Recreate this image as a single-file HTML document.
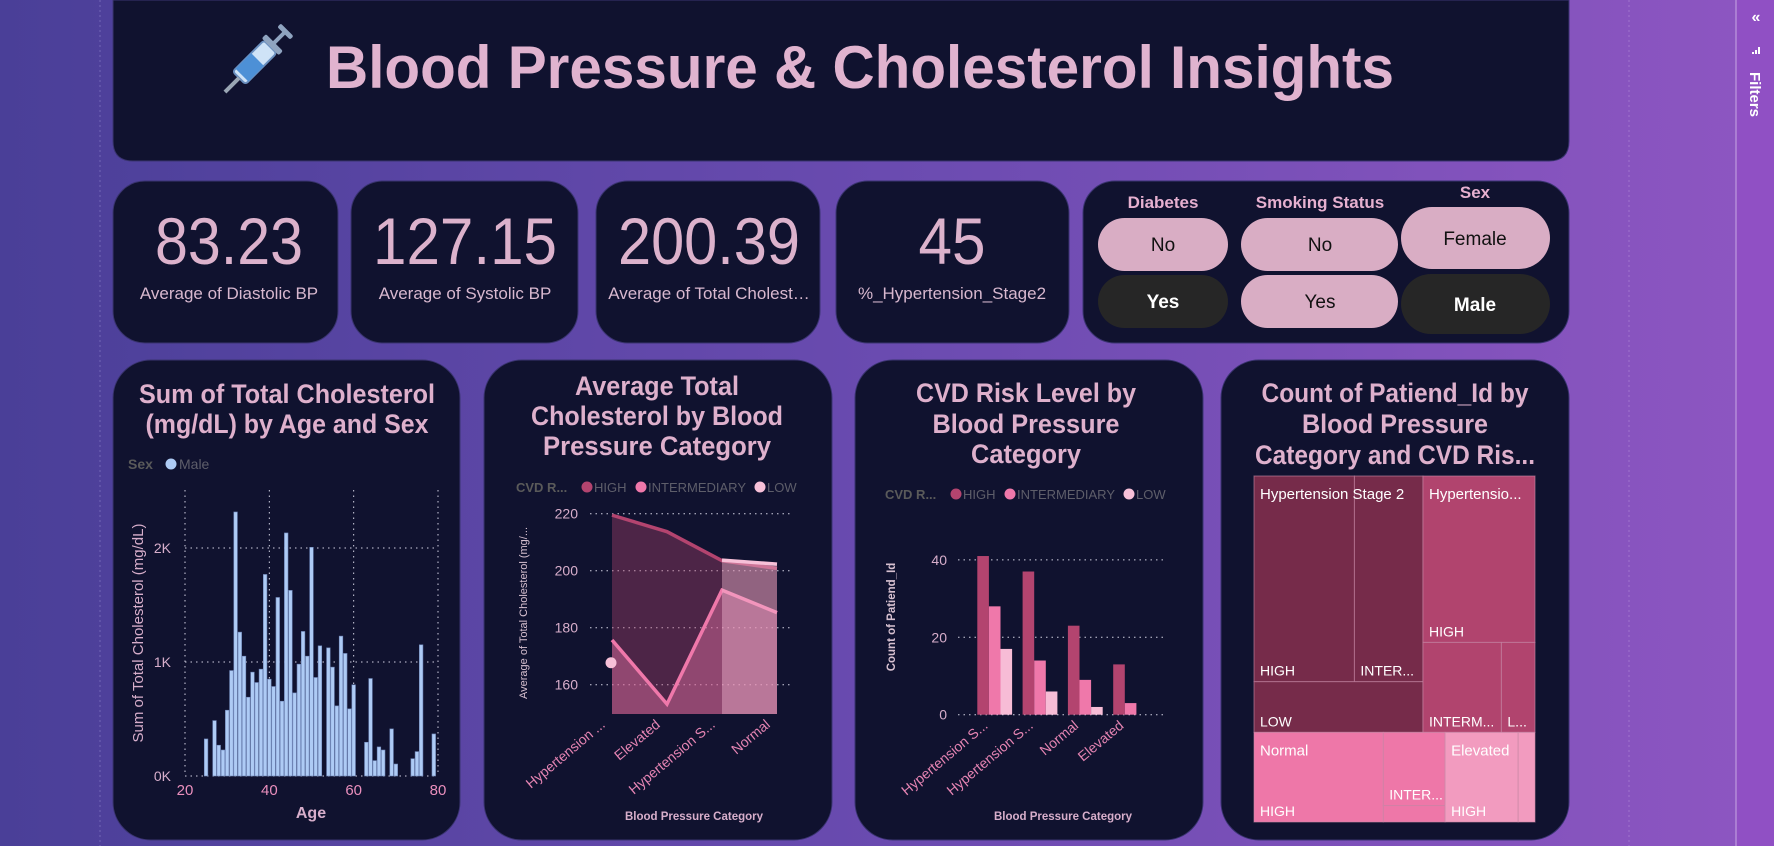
<!DOCTYPE html>
<html><head><meta charset="utf-8">
<style>
html,body{margin:0;padding:0;}
body{width:1774px;height:846px;overflow:hidden;background:linear-gradient(90deg,#4a3f98 0%,#6a4bb0 50%,#8e56c2 100%);font-family:"Liberation Sans",sans-serif;position:relative;}
svg{position:absolute;left:0;top:0;}
text{font-family:"Liberation Sans",sans-serif;}
</style></head>
<body>
<svg id="s" width="1774" height="846" viewBox="0 0 1774 846" xmlns="http://www.w3.org/2000/svg">
  <g>
    <line x1="100" y1="0" x2="100" y2="846" stroke="#8a7fc8" stroke-dasharray="2,3" stroke-width="1" opacity="0.6"/>
    <line x1="1629" y1="0" x2="1629" y2="846" stroke="#b08ad8" stroke-dasharray="2,3" stroke-width="1" opacity="0.6"/>
  </g>
  <g>
    <rect x="1736" y="0" width="38" height="846" fill="#9050c4"/>
    <line x1="1736" y1="0" x2="1736" y2="846" stroke="#c8a8e4" stroke-width="1"/>
    <text x="1756" y="22" fill="#fff" font-size="16" font-weight="bold" text-anchor="middle">«</text>
    <g fill="#fff">
      <rect x="1758" y="47" width="2" height="7"/><rect x="1755" y="50" width="2" height="4"/><rect x="1752" y="52" width="2" height="2"/>
    </g>
    <text transform="translate(1750,72) rotate(90)" fill="#fff" font-size="15" font-weight="bold">Filters</text>
  </g>

  <!-- Header -->
  <g>
    <path d="M113,0 H1569 V141 Q1569,161 1549,161 H133 Q113,161 113,141 Z" fill="#10122f" stroke="#3a3470" stroke-width="1"/>
    <g transform="translate(249,68) rotate(45)">
      <rect x="-9" y="-30" width="18" height="44" rx="3" fill="#cfe3f7" stroke="#6a8fbf" stroke-width="2"/>
      <rect x="-9" y="-12" width="18" height="22" fill="#4d90d6"/>
      <rect x="-2" y="14" width="4" height="20" fill="#9aa6b4"/>
      <rect x="-12" y="-36" width="24" height="6" rx="2" fill="#8fa4c0"/>
      <rect x="-2" y="-50" width="4" height="16" fill="#8fa4c0"/>
      <rect x="-9" y="-54" width="18" height="5" rx="2" fill="#8fa4c0"/>
    </g>
    <text x="326" y="88" fill="#e0b3cf" font-size="60" font-weight="bold" textLength="1068" lengthAdjust="spacingAndGlyphs">Blood Pressure &amp; Cholesterol Insights</text>
  </g>

  <!-- KPI cards -->
  <g>
    <rect x="113" y="181" width="225" height="162" rx="32" fill="#10122f" stroke="#3a3470"/>
    <text x="229" y="264" fill="#dcb2cc" font-size="66" text-anchor="middle" textLength="148" lengthAdjust="spacingAndGlyphs">83.23</text>
    <text x="229" y="299" fill="#d8b8cf" font-size="17" text-anchor="middle">Average of Diastolic BP</text>
  </g>
  <g>
    <rect x="351" y="181" width="227" height="162" rx="32" fill="#10122f" stroke="#3a3470"/>
    <text x="465" y="264" fill="#dcb2cc" font-size="66" text-anchor="middle" textLength="184" lengthAdjust="spacingAndGlyphs">127.15</text>
    <text x="465" y="299" fill="#d8b8cf" font-size="17" text-anchor="middle">Average of Systolic BP</text>
  </g>
  <g>
    <rect x="596" y="181" width="224" height="162" rx="32" fill="#10122f" stroke="#3a3470"/>
    <text x="709" y="264" fill="#dcb2cc" font-size="66" text-anchor="middle" textLength="182" lengthAdjust="spacingAndGlyphs">200.39</text>
    <text x="709" y="299" fill="#d8b8cf" font-size="17" text-anchor="middle">Average of Total Cholest…</text>
  </g>
  <g>
    <rect x="836" y="181" width="233" height="162" rx="32" fill="#10122f" stroke="#3a3470"/>
    <text x="952" y="264" fill="#dcb2cc" font-size="66" text-anchor="middle" textLength="67" lengthAdjust="spacingAndGlyphs">45</text>
    <text x="952" y="299" fill="#d8b8cf" font-size="17" text-anchor="middle">%_Hypertension_Stage2</text>
  </g>

  <!-- Slicers -->
  <g>
    <rect x="1083" y="181" width="486" height="162" rx="32" fill="#10122f" stroke="#3a3470"/>
    <text x="1163" y="208" fill="#e6b0d0" font-size="17" font-weight="bold" text-anchor="middle">Diabetes</text>
    <text x="1320" y="208" fill="#e6b0d0" font-size="17" font-weight="bold" text-anchor="middle">Smoking Status</text>
    <text x="1475" y="198" fill="#e6b0d0" font-size="17" font-weight="bold" text-anchor="middle">Sex</text>
    <g><rect x="1098" y="218" width="130" height="53" rx="26.5" fill="#d9adc4"/><text x="1163" y="251" font-size="19" text-anchor="middle" fill="#111">No</text></g>
    <g><rect x="1098" y="275" width="130" height="53" rx="26.5" fill="#262626"/><text x="1163" y="308" font-size="19" font-weight="bold" text-anchor="middle" fill="#fff">Yes</text></g>
    <g><rect x="1241" y="218" width="157" height="53" rx="26.5" fill="#d9adc4"/><text x="1320" y="251" font-size="19" text-anchor="middle" fill="#111">No</text></g>
    <g><rect x="1241" y="275" width="157" height="53" rx="26.5" fill="#d9adc4"/><text x="1320" y="308" font-size="19" text-anchor="middle" fill="#111">Yes</text></g>
    <g><rect x="1401" y="207" width="149" height="62" rx="31" fill="#d9adc4"/><text x="1475" y="245" font-size="19" text-anchor="middle" fill="#111">Female</text></g>
    <g><rect x="1401" y="274" width="149" height="60" rx="30" fill="#262626"/><text x="1475" y="311" font-size="19" font-weight="bold" text-anchor="middle" fill="#fff">Male</text></g>
  </g>

  <!-- Chart cards -->
  <g>
    <rect x="113" y="360" width="347" height="480" rx="38" fill="#10122f" stroke="#3a3470"/>
    <text x="287" y="403" fill="#deb0cc" font-size="27" font-weight="bold" text-anchor="middle" textLength="296" lengthAdjust="spacingAndGlyphs">Sum of Total Cholesterol</text>
    <text x="287" y="433" fill="#deb0cc" font-size="27" font-weight="bold" text-anchor="middle" textLength="283" lengthAdjust="spacingAndGlyphs">(mg/dL) by Age and Sex</text>
    <g>
      <text x="128" y="469" fill="#5a5a5a" font-size="14" font-weight="bold">Sex</text>
      <circle cx="171" cy="464" r="5.5" fill="#aecbf5"/>
      <text x="179" y="469" fill="#5e5e6a" font-size="14">Male</text>
    </g>
    <text transform="translate(143,633) rotate(-90)" fill="#d7aecb" font-size="15" text-anchor="middle">Sum of Total Cholesterol (mg/dL)</text>
    <text x="311" y="818" fill="#d7aecb" font-size="16" font-weight="bold" text-anchor="middle">Age</text>
    <g id="c1"></g>
  </g>
  <g>
    <rect x="484" y="360" width="348" height="480" rx="38" fill="#10122f" stroke="#3a3470"/>
    <text x="657" y="395" fill="#deb0cc" font-size="27" font-weight="bold" text-anchor="middle" textLength="164" lengthAdjust="spacingAndGlyphs">Average Total</text>
    <text x="657" y="425" fill="#deb0cc" font-size="27" font-weight="bold" text-anchor="middle" textLength="252" lengthAdjust="spacingAndGlyphs">Cholesterol by Blood</text>
    <text x="657" y="455" fill="#deb0cc" font-size="27" font-weight="bold" text-anchor="middle" textLength="228" lengthAdjust="spacingAndGlyphs">Pressure Category</text>
    <g>
      <text x="516" y="492" fill="#5a5a5a" font-size="13" font-weight="bold">CVD R...</text>
      <circle cx="587" cy="487" r="5.5" fill="#b3446f"/><text x="594" y="492" fill="#5e5e6a" font-size="13">HIGH</text>
      <circle cx="641" cy="487" r="5.5" fill="#ef78aa"/><text x="648" y="492" fill="#5e5e6a" font-size="13">INTERMEDIARY</text>
      <circle cx="760" cy="487" r="5.5" fill="#f7c0d8"/><text x="767" y="492" fill="#5e5e6a" font-size="13">LOW</text>
    </g>
    <text transform="translate(527,613) rotate(-90)" fill="#d7c0d0" font-size="11" text-anchor="middle">Average of Total Cholesterol (mg/...</text>
    <text x="694" y="820" fill="#d7aecb" font-size="11.5" font-weight="bold" text-anchor="middle">Blood Pressure Category</text>
    <g id="c2"></g>
  </g>
  <g>
    <rect x="855" y="360" width="348" height="480" rx="38" fill="#10122f" stroke="#3a3470"/>
    <text x="1026" y="402" fill="#deb0cc" font-size="27" font-weight="bold" text-anchor="middle" textLength="220" lengthAdjust="spacingAndGlyphs">CVD Risk Level by</text>
    <text x="1026" y="433" fill="#deb0cc" font-size="27" font-weight="bold" text-anchor="middle" textLength="187" lengthAdjust="spacingAndGlyphs">Blood Pressure</text>
    <text x="1026" y="463" fill="#deb0cc" font-size="27" font-weight="bold" text-anchor="middle" textLength="110" lengthAdjust="spacingAndGlyphs">Category</text>
    <g>
      <text x="885" y="499" fill="#5a5a5a" font-size="13" font-weight="bold">CVD R...</text>
      <circle cx="956" cy="494" r="5.5" fill="#b3446f"/><text x="963" y="499" fill="#5e5e6a" font-size="13">HIGH</text>
      <circle cx="1010" cy="494" r="5.5" fill="#ef78aa"/><text x="1017" y="499" fill="#5e5e6a" font-size="13">INTERMEDIARY</text>
      <circle cx="1129" cy="494" r="5.5" fill="#f7c0d8"/><text x="1136" y="499" fill="#5e5e6a" font-size="13">LOW</text>
    </g>
    <text transform="translate(895,617) rotate(-90)" fill="#d7c0d0" font-size="11.5" font-weight="bold" text-anchor="middle">Count of Patiend_Id</text>
    <text x="1063" y="820" fill="#d7aecb" font-size="11.5" font-weight="bold" text-anchor="middle">Blood Pressure Category</text>
    <g id="c3"></g>
  </g>
  <g>
    <rect x="1221" y="360" width="348" height="480" rx="38" fill="#10122f" stroke="#3a3470"/>
    <text x="1395" y="402" fill="#deb0cc" font-size="27" font-weight="bold" text-anchor="middle" textLength="267" lengthAdjust="spacingAndGlyphs">Count of Patiend_Id by</text>
    <text x="1395" y="433" fill="#deb0cc" font-size="27" font-weight="bold" text-anchor="middle" textLength="186" lengthAdjust="spacingAndGlyphs">Blood Pressure</text>
    <text x="1395" y="464" fill="#deb0cc" font-size="27" font-weight="bold" text-anchor="middle" textLength="280" lengthAdjust="spacingAndGlyphs">Category and CVD Ris...</text>
    <g id="c4"></g>
  </g>
</svg>
<script>
// ---------- Chart 1 data ----------
const ages = [25,27,28,29,30,31,32,33,34,35,36,37,38,39,40,41,42,43,44,45,46,47,48,49,50,51,52,54,55,56,57,58,59,60,63,64,65,66,67,69,70,74,75,76,79];
const cholSums = [325,486,270,228,577,925,2316,1262,1051,691,911,820,937,1768,849,785,1566,656,2132,1628,729,981,1268,1051,2006,864,1142,1124,955,615,1227,1075,589,800,296,855,135,255,228,413,105,152,214,1151,369];
const c1XTicks = [20,40,60,80];
const c1YTicks = [0,1000,2000];
const c1YLabels = ['0K','1K','2K'];

// ---------- Chart 2 data ----------
const c2Cats = ['Hypertension ...','Elevated','Hypertension S...','Normal'];
const c2High = [219.5,213.7,203.5,200.8];
const c2Inter = [175.7,153.2,193.2,185.3];
const c2Low = [167.7,null,203.7,202.3];
const c2YTicks = [160,180,200,220];

// ---------- Chart 3 data ----------
const c3Cats = ['Hypertension S...','Hypertension S...','Normal','Elevated'];
const c3High = [41,37,23,13];
const c3Inter = [28,14,9,3];
const c3Low = [17,6,2,0];
const c3YTicks = [0,20,40];

// ---------- Chart 4 data ----------
const tmCats = ['Hypertension Stage 2','Hypertension Stage 1','Normal','Elevated'];
const tmHigh = [41,37,23,13];
const tmInter = [28,14,9,3];
const tmLow = [17,6,2,0];

const NS='http://www.w3.org/2000/svg';
function mk(tag,attrs,parent){const e=document.createElementNS(NS,tag);for(const k in attrs)e.setAttribute(k,attrs[k]);parent.appendChild(e);return e;}

// Chart 1
(function(){
  const g=document.getElementById('c1');
  const x=a=>185+(a-20)*(253/60);
  const y=v=>776-v*0.114;
  c1XTicks.forEach(t=>{
    const l=mk('line',{x1:x(t),x2:x(t),y1:490,y2:776,stroke:'#cfcfe0','stroke-dasharray':'1.5,4','stroke-width':1},g);
    
    
    const tx=mk('text',{x:x(t),y:795,fill:'#ea8fbd','font-size':15,'text-anchor':'middle'},g);tx.textContent=t;
    
    
  });
  c1YTicks.forEach((t,i)=>{
    const l=mk('line',{x1:185,x2:438,y1:y(t),y2:y(t),stroke:'#cfcfe0','stroke-dasharray':'1.5,4','stroke-width':1},g);
    
    
    const tx=mk('text',{x:171,y:y(t)+5,fill:'#d7aecb','font-size':14,'text-anchor':'end'},g);tx.textContent=c1YLabels[i];
    
    
  });
  ages.forEach((a,i)=>{
    const r=mk('rect',{x:x(a)-1.8,y:y(cholSums[i]),width:3.6,height:cholSums[i]*0.114,fill:'#aecbf5',stroke:'#6f86b8','stroke-width':0.6},g);
    
    
  });
})();

// Chart 2
(function(){
  const g=document.getElementById('c2');
  const x=i=>612+i*55;
  const y=v=>684.7-(v-160)*(171/60);
  const base=y(149.7);
  c2YTicks.forEach(t=>{
    const l=mk('line',{x1:590,x2:793,y1:y(t),y2:y(t),stroke:'#cfcfe0','stroke-dasharray':'1.5,4','stroke-width':1},g);
    
    
    const tx=mk('text',{x:578,y:y(t)+5,fill:'#d7aecb','font-size':14,'text-anchor':'end'},g);tx.textContent=t;
    
    
  });
  function series(vals,col,op,name){
    // segments of consecutive non-null
    let seg=[];const segs=[];
    vals.forEach((v,i)=>{if(v==null){if(seg.length)segs.push(seg);seg=[];}else seg.push(i);});
    if(seg.length)segs.push(seg);
    segs.forEach(s=>{
      if(s.length>1){
        let d='M'+x(s[0])+','+base;
        s.forEach(i=>d+=' L'+x(i)+','+y(vals[i]));
        d+=' L'+x(s[s.length-1])+','+base+' Z';
        const a=mk('path',{d:d,fill:col,'fill-opacity':op},g);
        
        
        let ld='';s.forEach((i,k)=>ld+=(k?' L':'M')+x(i)+','+y(vals[i]));
        const l=mk('path',{d:ld,fill:'none',stroke:col,'stroke-width':3.5},g);
        
        
      } else {
        const c=mk('circle',{cx:x(s[0])-1,cy:y(vals[s[0]]),r:5.5,fill:col},g);
        
        
      }
    });
  }
  series(c2High,'#b3446f',0.38,'high');
  series(c2Inter,'#ef78aa',0.42,'intermediary');
  series(c2Low,'#f7c0d8',0.4,'low');
  c2Cats.forEach((c,i)=>{
    const tx=mk('text',{transform:'translate('+(x(i)-6)+',726) rotate(-40)',fill:'#e584b3','font-size':14,'text-anchor':'end'},g);tx.textContent=c;
    
    
  });
})();

// Chart 3
(function(){
  const g=document.getElementById('c3');
  const y=v=>714.7-v*3.87;
  const gx=i=>977.3+i*45.3;
  const bw=11.6;
  c3YTicks.forEach(t=>{
    const l=mk('line',{x1:958,x2:1163,y1:y(t),y2:y(t),stroke:'#cfcfe0','stroke-dasharray':'1.5,4','stroke-width':1},g);
    
    
    const tx=mk('text',{x:947,y:y(t)+5,fill:'#d7aecb','font-size':14,'text-anchor':'end'},g);tx.textContent=t;
    
    
  });
  const ser=[[c3High,'#b3446f','high'],[c3Inter,'#ef78aa','intermediary'],[c3Low,'#f7bcd6','low']];
  c3Cats.forEach((c,i)=>{
    ser.forEach((s,k)=>{
      const v=s[0][i]; if(!v) return;
      const r=mk('rect',{x:gx(i)+k*bw,y:y(v),width:bw,height:v*3.87,fill:s[1]},g);
      
      
    });
    const tx=mk('text',{transform:'translate('+(gx(i)+bw*1.5-6)+',727) rotate(-40)',fill:'#e584b3','font-size':14,'text-anchor':'end'},g);tx.textContent=c;
    
    
  });
})();

// Chart 4 treemap
(function(){
  const g=document.getElementById('c4');
  const X0=1254,Y0=476,W=281,H=346;
  const cols=['#762b4a','#b1446e','#ee77a8','#f29bbf'];
  const tot=tmCats.map((c,i)=>tmHigh[i]+tmInter[i]+tmLow[i]);
  const T=tot.reduce((a,b)=>a+b,0);
  function rect(x,y,w,h,col,name){
    const r=mk('rect',{x:x,y:y,width:w,height:h,fill:col,stroke:'#c98aa8','stroke-opacity':0.6,'stroke-width':1},g);
    
    
  }
  function label(x,y,t,sz,name){
    const tx=mk('text',{x:x,y:y,fill:'#fff','font-size':sz||14},g);tx.textContent=t;
    
    
  }
  const topH=H*(tot[0]+tot[1])/T;
  // Group 0
  const w0=W*tot[0]/(tot[0]+tot[1]);
  const hi0=topH*(tmHigh[0]+tmInter[0])/tot[0];
  const hw0=w0*tmHigh[0]/(tmHigh[0]+tmInter[0]);
  rect(X0,Y0,hw0,hi0,cols[0],'treemap-hs2-high');
  rect(X0+hw0,Y0,w0-hw0,hi0,cols[0],'treemap-hs2-inter');
  rect(X0,Y0+hi0,w0,topH-hi0,cols[0],'treemap-hs2-low');
  label(X0+6,Y0+23,tmCats[0],15,'treemap-hs2-header');
  label(X0+6,Y0+hi0-6,'HIGH',14,'treemap-label');
  label(X0+hw0+6,Y0+hi0-6,'INTER...',14,'treemap-label');
  label(X0+6,Y0+topH-6,'LOW',14,'treemap-label');
  // Group 1
  const X1=X0+w0,w1=W-w0;
  const h1=topH*tmHigh[1]/tot[1];
  const iw1=w1*tmInter[1]/(tmInter[1]+tmLow[1]);
  rect(X1,Y0,w1,h1,cols[1],'treemap-hs1-high');
  rect(X1,Y0+h1,iw1,topH-h1,cols[1],'treemap-hs1-inter');
  rect(X1+iw1,Y0+h1,w1-iw1,topH-h1,cols[1],'treemap-hs1-low');
  label(X1+6,Y0+23,'Hypertensio...',15,'treemap-hs1-header');
  label(X1+6,Y0+h1-6,'HIGH',14,'treemap-label');
  label(X1+6,Y0+topH-6,'INTERM...',14,'treemap-label');
  label(X1+iw1+6,Y0+topH-6,'L...',14,'treemap-label');
  // Bottom row
  const Yb=Y0+topH,hb=H-topH;
  const w2=W*tot[2]/(tot[2]+tot[3]);
  [[2,X0,w2,'normal','Normal'],[3,X0+w2,W-w2,'elevated','Elevated']].forEach(([i,x,w,nm,hdr])=>{
    const hw=w*tmHigh[i]/tot[i];
    const rest=tmInter[i]+tmLow[i];
    const ih=rest?hb*tmInter[i]/rest:hb;
    rect(x,Yb,hw,hb,cols[i],'treemap-'+nm+'-high');
    rect(x+hw,Yb,w-hw,ih,cols[i],'treemap-'+nm+'-inter');
    if(tmLow[i]) rect(x+hw,Yb+ih,w-hw,hb-ih,cols[i],'treemap-'+nm+'-low');
    label(x+6,Yb+23,hdr,15,'treemap-'+nm+'-header');
    label(x+6,Yb+hb-6,'HIGH',14,'treemap-label');
    if(i===2) label(x+hw+6,Yb+ih-6,'INTER...',14,'treemap-label');
  });
})();
</script>
</body></html>
